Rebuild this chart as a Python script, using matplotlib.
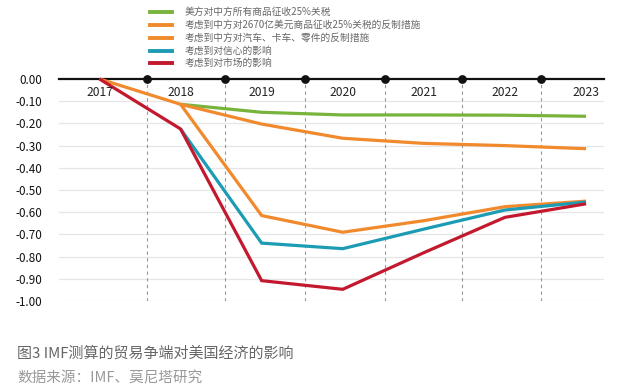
import matplotlib
matplotlib.use("Agg")
import matplotlib.pyplot as plt
from matplotlib.lines import Line2D

plt.rcParams['font.family'] = ['Noto Sans CJK SC', 'DejaVu Sans']

years = [2017, 2018, 2019, 2020, 2021, 2022, 2023]
separators = [2017.59, 2018.55, 2019.53, 2020.52, 2021.47, 2022.45]

labels = [
    "美方对中方所有商品征收25%关税",
    "考虑到中方对2670亿美元商品征收25%关税的反制措施",
    "考虑到中方对汽车、卡车、零件的反制措施",
    "考虑到对信心的影响",
    "考虑到对市场的影响",
]
green_x = [2018, 2019, 2020, 2021, 2022, 2023]
green = [-0.114, -0.150, -0.162, -0.162, -0.163, -0.168]
orange1_x = [2017, 2018, 2019, 2020, 2021, 2022, 2023]
orange1 = [0.0, -0.114, -0.203, -0.267, -0.290, -0.300, -0.314]
orange2_x = [2018, 2019, 2020, 2021, 2022, 2023]
orange2 = [-0.114, -0.615, -0.690, -0.638, -0.575, -0.550]
teal_x = [2018, 2019, 2020, 2021, 2022, 2023]
teal = [-0.225, -0.739, -0.764, -0.676, -0.590, -0.554]
red_x = [2017, 2018, 2019, 2020, 2021, 2022, 2023]
red = [0.0, -0.225, -0.908, -0.947, -0.782, -0.623, -0.562]

colors = ["#78B43C", "#F08A2C", "#F08A2C", "#1C9CB4", "#C2192F"]
yticks = [0.0, -0.1, -0.2, -0.3, -0.4, -0.5, -0.6, -0.7, -0.8, -0.9, -1.0]

fig = plt.figure(figsize=(6.2, 3.89), dpi=100)
ax = fig.add_axes([0.095, 0.226, 0.879, 0.571])
ax.set_xlim(2016.5, 2023.22)
ax.set_ylim(-1.0, 0.0)

for v in yticks[1:]:
    ax.axhline(v, color="#e6e6e6", lw=0.9, zorder=0)
for s in separators:
    ax.plot([s, s], [-1.0, 0.0], color="#999999", lw=0.8, ls=(0, (3, 3)), zorder=1)

ax.plot([2016.5, 2023.22], [0, 0], color="#111111", lw=1.6, zorder=2, clip_on=False)
ax.scatter(separators, [0] * len(separators), s=28, color="#111111", zorder=3, clip_on=False)

series = [(green_x, green), (orange1_x, orange1), (orange2_x, orange2), (teal_x, teal), (red_x, red)]
for (xs, ys), c in zip(series, colors):
    ax.plot(xs, ys, color=c, lw=2.3, zorder=4, solid_capstyle='butt', solid_joinstyle='miter', clip_on=False)

for y in years:
    ax.text(y, -0.063, str(y), ha="center", va="center", fontsize=8.7, color="#222222", zorder=5)

ax.set_yticks(yticks)
ax.set_yticklabels([f"{v:.2f}" for v in yticks], fontsize=8.4, color="#111111")
ax.tick_params(axis='y', length=0, pad=12)
ax.set_xticks([])
for sp in ax.spines.values():
    sp.set_visible(False)

# legend
leg_y = [12.3, 25.0, 37.7, 50.7, 63.3]
for lab, c, yy in zip(labels, colors, leg_y):
    yf = 1 - yy / 389
    fig.add_artist(Line2D([150 / 620, 172 / 620], [yf, yf], color=c, lw=2.8,
                          transform=fig.transFigure))
    fig.text(185 / 620, yf, lab, fontsize=7.0, color="#666666", va="center", ha="left")

fig.text(17 / 620, 1 - 353 / 389, "图3 IMF测算的贸易争端对美国经济的影响", fontsize=10.8,
         color="#666666", va="center", ha="left")
fig.text(17 / 620, 1 - 378 / 389, "数据来源：IMF、莫尼塔研究", fontsize=10.5,
         color="#999999", va="center", ha="left")

fig.savefig("out.png", dpi=100, facecolor="white")
